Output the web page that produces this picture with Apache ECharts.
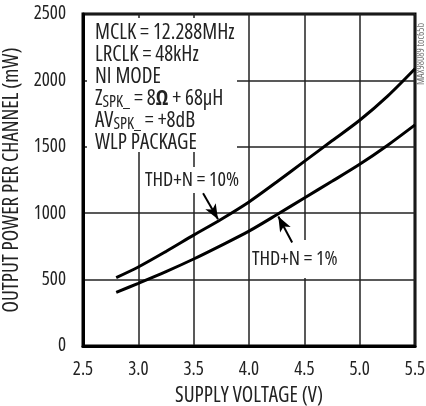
<!DOCTYPE html>
<html><head><meta charset="utf-8">
<script src="https://cdn.jsdelivr.net/npm/echarts@6/dist/echarts.min.js"></script>
<style>html,body{margin:0;padding:0;background:#fff}#c{width:426px;height:406px}</style>
</head><body><div id="c"></div>
<script>
const xTicks = [2.5, 3.0, 3.5, 4.0, 4.5, 5.0, 5.5];
const yTicks = [0, 500, 1000, 1500, 2000, 2500];
const voltage10 = [2.8, 3.0, 3.25, 3.5, 3.75, 4.0, 4.25, 4.5, 4.75, 5.0, 5.25, 5.5];
const power10 = [515, 595, 712, 835, 955, 1085, 1235, 1390, 1545, 1700, 1880, 2088];
const voltage1 = [2.8, 3.0, 3.25, 3.5, 3.75, 4.0, 4.25, 4.5, 4.75, 5.0, 5.25, 5.5];
const power1 = [404, 472, 560, 655, 758, 865, 988, 1115, 1240, 1368, 1510, 1665];
const conditions = ['MCLK = 12.288MHz', 'LRCLK = 48kHz', 'NI MODE'];
const label10 = 'THD+N = 10%';
const label1 = 'THD+N = 1%';
const arrow10 = [[3.585, 1150], [3.72, 955]];
const arrow1 = [[4.39, 780], [4.265, 975]];

const FONT = '"Open Sans"';
const FS = 'condensed';
const chart = echarts.init(document.getElementById('c'), null, {renderer: 'canvas'});
const pairs = (xs, ys) => xs.map((x, i) => [x, ys[i]]);
const textCol = '#222';

chart.setOption({
  animation: false,
  backgroundColor: '#fff',
  grid: {left: 83, right: 11, top: 14, bottom: 60, containLabel: false, outerBoundsMode: 'none',
    show: true, borderColor: '#000', borderWidth: 3, backgroundColor: 'transparent'},
  xAxis: {
    type: 'value', min: xTicks[0], max: xTicks[xTicks.length - 1], interval: 0.5,
    name: 'SUPPLY VOLTAGE (V)', nameLocation: 'middle', nameGap: 40,
    nameTextStyle: {fontFamily: FONT, fontStyle: FS, fontSize: 21, color: textCol},
    axisLine: {lineStyle: {color: '#000', width: 3}},
    axisTick: {show: false},
    axisLabel: {fontFamily: FONT, fontStyle: FS, fontSize: 19, color: textCol, margin: 14, formatter: v => v.toFixed(1)},
    splitLine: {show: true, lineStyle: {color: '#222', width: 1.5}}
  },
  yAxis: {
    type: 'value', min: yTicks[0], max: yTicks[yTicks.length - 1], interval: 500,
    name: 'OUTPUT POWER PER CHANNEL (mW)', nameLocation: 'middle', nameGap: 56,
    nameTextStyle: {fontFamily: FONT, fontStyle: FS, fontSize: 21, color: textCol},
    axisLine: {show: true, lineStyle: {color: '#000', width: 3}},
    axisTick: {show: false},
    axisLabel: {fontFamily: FONT, fontStyle: FS, fontSize: 19, color: textCol, margin: 17, formatter: v => String(v)},
    splitLine: {show: true, lineStyle: {color: '#222', width: 1.5}}
  },
  series: [
    {type: 'line', data: pairs(voltage10, power10), smooth: 0.3, showSymbol: false,
     lineStyle: {color: '#000', width: 3}, z: 5,
     markLine: {silent: true, symbol: ['none', 'arrow'], symbolSize: [9, 15], label: {show: false},
       lineStyle: {color: '#000', width: 2, type: 'solid'},
       data: [[{coord: arrow10[0]}, {coord: arrow10[1]}]]}},
    {type: 'line', data: pairs(voltage1, power1), smooth: 0.3, showSymbol: false,
     lineStyle: {color: '#000', width: 3}, z: 5,
     markLine: {silent: true, symbol: ['none', 'arrow'], symbolSize: [9, 15], label: {show: false},
       lineStyle: {color: '#000', width: 2, type: 'solid'},
       data: [[{coord: arrow1[0]}, {coord: arrow1[1]}]]}}
  ],
  graphic: [
    {type: 'rect', shape: {x: 87, y: 18, width: 150, height: 134}, style: {fill: '#fff'}, z: 3},
    {type: 'text', x: 95, y: 22, z: 4, style: {
      text: conditions.map(t => '{n|' + t + '}').join('\n') +
        '\n{n|Z}{s|SPK_}{n| = 8}{b|Ω}{n| + 68μH}' +
        '\n{n|AV}{s|SPK_}{n| = +8dB}' +
        '\n{n|WLP PACKAGE}',
      rich: {
        n: {fontFamily: FONT, fontStyle: FS, fontSize: 21, lineHeight: 22, fill: textCol, verticalAlign: 'bottom'},
        s: {fontFamily: FONT, fontStyle: FS, fontSize: 16, lineHeight: 17, fill: textCol, verticalAlign: 'bottom'},
        b: {fontFamily: FONT, fontStyle: FS, fontSize: 21, lineHeight: 22, fill: textCol, fontWeight: 'bold', verticalAlign: 'bottom'}
      }
    }},
    {type: 'text', x: 143, y: 180, z: 4, style: {text: label10, fontFamily: FONT, fontStyle: FS, fontSize: 20, fill: textCol,
      verticalAlign: 'middle', backgroundColor: '#fff', padding: [3, 2, 3, 2]}},
    {type: 'text', x: 250, y: 259, z: 4, style: {text: label1, fontFamily: FONT, fontStyle: FS, fontSize: 20, fill: textCol,
      verticalAlign: 'middle', backgroundColor: '#fff', padding: [10, 2, 8, 2]}},
    {type: 'text', x: 421, y: 54, rotation: Math.PI / 2, z: 4, style: {text: 'MAX98089 toc65b',
      fontFamily: FONT, fontStyle: FS, fontSize: 10, fill: '#777', align: 'center', verticalAlign: 'middle'}}
  ]
});
</script></body></html>
